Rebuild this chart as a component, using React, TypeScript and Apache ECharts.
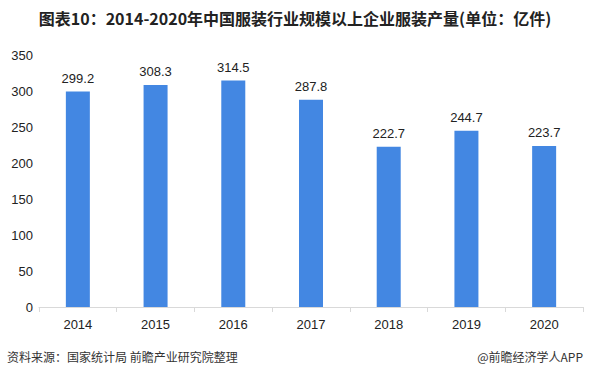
import React, { useEffect, useRef } from "react";
import * as echarts from "echarts";

const years = ["2014", "2015", "2016", "2017", "2018", "2019", "2020"];
const output = [299.2, 308.3, 314.5, 287.8, 222.7, 244.7, 223.7];
const titleText = "图表10：2014-2020年中国服装行业规模以上企业服装产量(单位：亿件)";
const sourceText = "资料来源：国家统计局 前瞻产业研究院整理";
const brandText = "@前瞻经济学人APP";

export default function App() {
  const ref = useRef<HTMLDivElement>(null);
  useEffect(() => {
    const chart = echarts.init(ref.current!, null, { renderer: "svg" });
    const font = "'Microsoft YaHei', 'Noto Sans CJK SC', sans-serif";
    const numFont = "Liberation Sans, Arial, sans-serif";
    chart.setOption({
      animation: false,
      backgroundColor: "#ffffff",
      textStyle: { fontFamily: font },
      title: {
        text: titleText,
        left: "center",
        top: 5,
        textStyle: { fontSize: 16, fontWeight: "bold", color: "#222", fontFamily: font },
      },
      grid: { left: 39, right: 7, top: 55, bottom: 73, containLabel: false },
      xAxis: {
        type: "category",
        data: years,
        axisLine: { lineStyle: { color: "#d9d9d9" } },
        axisTick: { show: true, alignWithLabel: false, length: 5, lineStyle: { color: "#d9d9d9" } },
        axisLabel: { color: "#222", fontSize: 13, margin: 11, fontFamily: numFont },
      },
      yAxis: {
        type: "value",
        min: 0,
        max: 350,
        interval: 50,
        axisLine: { show: false },
        axisTick: { show: false },
        splitLine: { show: false },
        axisLabel: { color: "#222", fontSize: 13, margin: 6, fontFamily: numFont },
      },
      series: [
        {
          type: "bar",
          data: output,
          barWidth: 24,
          itemStyle: { color: "#4387e2" },
          label: {
            show: true,
            position: "top",
            distance: 7,
            color: "#222",
            fontSize: 13,
            fontFamily: numFont,
          },
        },
      ],
      graphic: [
        {
          type: "text",
          left: 7,
          top: 350,
          style: { text: sourceText, fill: "#333", font: `12px ${font}` },
        },
        {
          type: "text",
          right: 7,
          top: 350,
          style: { text: brandText, fill: "#333", font: `12px ${font}` },
        },
      ],
    });
    return () => chart.dispose();
  }, []);
  return <div ref={ref} style={{ width: 590, height: 380, position: "absolute", left: 0, top: 0 }} />;
}
